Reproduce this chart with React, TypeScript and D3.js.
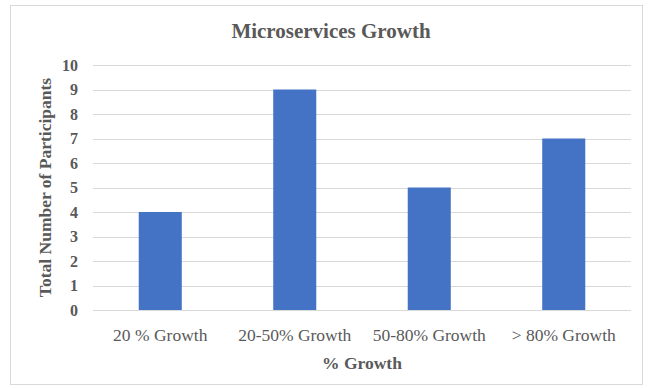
import React from "react";
import * as d3 from "d3";

const categories = ["20 % Growth", "20-50% Growth", "50-80% Growth", "> 80% Growth"];
const values = [4, 9, 5, 7];
const yTicks = [0, 1, 2, 3, 4, 5, 6, 7, 8, 9, 10];
const title = "Microservices Growth";
const xTitle = "% Growth";
const yTitle = "Total Number of Participants";

export default function App() {
  const W = 654, H = 388;
  const left = 93, right = 631, top = 65, bottom = 310;
  const x = d3.scaleBand<string>().domain(categories).range([left, right]).paddingInner(0.68).paddingOuter(0.34);
  const y = d3.scaleLinear().domain([0, 10]).range([bottom, top]);
  const font = "'Liberation Serif', 'Times New Roman', serif";
  const grey = "#595959";
  return (
    <svg width={W} height={H} style={{ position: "absolute", left: 0, top: 0, background: "#fff" }} fontFamily={font}>
      <rect x={0} y={0} width={W} height={H} fill="#fff" />
      <rect x={10.5} y={5.5} width={632} height={379} fill="#fff" stroke="#d9d9d9" strokeWidth={1} />
      <text x={331} y={38} textAnchor="middle" fontSize={21} fontWeight="bold" fill={grey}>{title}</text>
      {yTicks.map((t) => (
        <g key={t}>
          <line x1={left} x2={right} y1={Math.round(y(t)) + 0.5} y2={Math.round(y(t)) + 0.5} stroke="#d9d9d9" strokeWidth={1} />
          <text x={78} y={y(t)} dy="0.35em" textAnchor="end" fontSize={16} fontWeight="bold" fill={grey}>{t}</text>
        </g>
      ))}
      {categories.map((c, i) => (
        <rect key={c} x={x(c)} y={y(values[i])} width={x.bandwidth()} height={bottom - y(values[i])} fill="#4472C4" />
      ))}
      {categories.map((c) => (
        <text key={c} x={(x(c) as number) + x.bandwidth() / 2} y={335} dy="0.35em" textAnchor="middle" fontSize={17.5} fill={grey}>{c}</text>
      ))}
      <text x={362} y={363} dy="0.35em" textAnchor="middle" fontSize={17.5} fontWeight="bold" fill={grey}>{xTitle}</text>
      <text transform={`translate(45,${(top + bottom) / 2}) rotate(-90)`} dy="0.35em" textAnchor="middle" fontSize={17.5} fontWeight="bold" fill={grey}>{yTitle}</text>
    </svg>
  );
}
